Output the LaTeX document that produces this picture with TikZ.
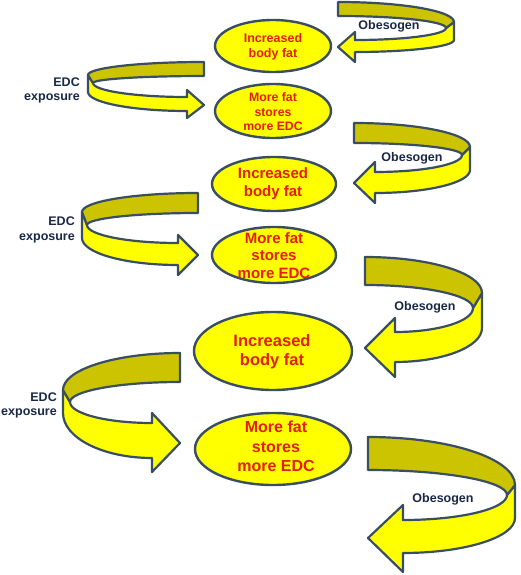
\documentclass[tikz,border=0pt]{standalone}
\usepackage{fontspec}
\setmainfont{Liberation Sans}
\usetikzlibrary{shapes.geometric,calc}
\definecolor{yel}{RGB}{255,255,0}
\definecolor{olv}{RGB}{204,196,0}
\definecolor{edgec}{RGB}{58,78,98}
\definecolor{redtxt}{RGB}{228,30,10}
\definecolor{navy}{RGB}{25,40,70}
\tikzset{
  blob/.style={ellipse, draw=edgec, fill=yel, line width=2.4pt, inner sep=0pt},
  etext/.style={text=redtxt, align=center, inner sep=0pt},
  lab/.style={text=navy, font=\bfseries\fontsize{12.5}{14.5}\selectfont, inner sep=0pt, align=right},
  band/.style={draw=edgec, line width=2.2pt, line join=round},
}
\newcommand\rbody[6]{%
  \coordinate (A) at (0,0); \coordinate (B) at (0,#2);
  \coordinate (R) at (#1,#3); \coordinate (T) at (#4,#5);
  \coordinate (RB) at (#1,#6);}
\newcommand\rhead[6]{%
  \coordinate (H1) at (#1,#2); \coordinate (H2) at (#1,#3);
  \coordinate (BT) at (#1,#4); \coordinate (BB) at (#1,#5);
  \coordinate (P) at (0,#6);}
\newcommand\drawribbon{%
  \path[band, fill=yel] (T) -- (R) -- (RB)
    .. controls ($(RB)!0.552!(H2-|RB)$) and ($(H2)!0.552!(H2-|RB)$) .. (H2)
    -- (BB) -- (P) -- (BT) -- (H1)
    .. controls ($(H1)!0.552!(H1-|T)$) and ($(T)!0.552!(H1-|T)$) .. (T) -- cycle;
  \path[band, fill=olv] (A)
    .. controls ($(A)!0.552!(A-|R)$) and ($(R)!0.552!(A-|R)$) .. (R) -- (T)
    .. controls ($(T)!0.552!(B-|T)$) and ($(B)!0.552!(B-|T)$) .. (B) -- cycle;}
\begin{document}
\begin{tikzpicture}[x=1pt,y=-1pt]
\useasboundingbox (0,0) rectangle (520,575);
\fill[white] (0,0) rectangle (520,575);

% right-hand "Obesogen" ribbons
\begin{scope}[shift={(338,2)}]
  \rbody{116}{14}{20}{108}{26}{38}\rhead{17}{38}{50}{30}{60}{45}\drawribbon
\end{scope}
\begin{scope}[shift={(354,123)}]
  \rbody{116}{20}{24}{108}{32}{47}\rhead{21}{49}{70}{39}{80}{60}\drawribbon
\end{scope}
\begin{scope}[shift={(365,257)}]
  \rbody{117}{28}{36}{108}{51}{71}\rhead{30}{75}{105}{61}{120}{91}\drawribbon
\end{scope}
\begin{scope}[shift={(368,437)}]
  \rbody{147}{33}{48}{139}{58}{81}\rhead{35}{83}{116}{68}{135}{101}\drawribbon
\end{scope}

% left-hand "EDC exposure" ribbons
\begin{scope}[shift={(204,62)},xscale=-1]
  \rbody{116}{14}{13}{111}{21}{30}\rhead{17}{35}{49}{28}{56}{43}\drawribbon
\end{scope}
\begin{scope}[shift={(198,193)},xscale=-1]
  \rbody{116}{20}{19}{111}{32}{45}\rhead{20}{50}{72}{42}{82}{62}\drawribbon
\end{scope}
\begin{scope}[shift={(180,353)},xscale=-1]
  \rbody{117}{29}{37}{110}{49}{60}\rhead{28}{70}{105}{60}{119}{90}\drawribbon
\end{scope}

% ellipses
\node[blob, minimum width=116pt, minimum height=52pt] (e1) at (273,46) {};
\node[blob, minimum width=116pt, minimum height=54pt] (e2) at (273,111) {};
\node[blob, minimum width=124pt, minimum height=54pt] (e3) at (274,184) {};
\node[blob, minimum width=124pt, minimum height=56pt] (e4) at (274,255) {};
\node[blob, minimum width=158pt, minimum height=78pt] (e5) at (273,351) {};
\node[blob, minimum width=156pt, minimum height=72pt] (e6) at (273,449) {};

\node[etext, font=\bfseries\fontsize{12.5}{15}\selectfont] (t1) at (273,47) {Increased\\body fat};
\node[etext, font=\bfseries\fontsize{12.3}{14.5}\selectfont] (t2) at (273,112) {More fat\\stores\\more EDC};
\node[etext, font=\bfseries\fontsize{15}{18}\selectfont] (t3) at (273,184) {Increased\\body fat};
\node[etext, font=\bfseries\fontsize{15}{17.5}\selectfont] (t4) at (274,255.5) {More fat\\stores\\more EDC};
\node[etext, font=\bfseries\fontsize{16.5}{19.5}\selectfont] (t5) at (272,351.5) {Increased\\body fat};
\node[etext, font=\bfseries\fontsize{16}{19.5}\selectfont] (t6) at (276,446.5) {More fat\\stores\\more EDC};

% labels
\node[lab] (o1) at (389,26) {Obesogen};
\node[lab] (o2) at (412,158) {Obesogen};
\node[lab] (o3) at (425,307) {Obesogen};
\node[lab] (o4) at (443,499) {Obesogen};
\node[lab, anchor=east] (x1) at (80,90.5) {EDC\\exposure};
\node[lab, anchor=east] (x2) at (75,230) {EDC\\exposure};
\node[lab, anchor=east] (x3) at (57,405.5) {EDC\\exposure};
\end{tikzpicture}
\end{document}
